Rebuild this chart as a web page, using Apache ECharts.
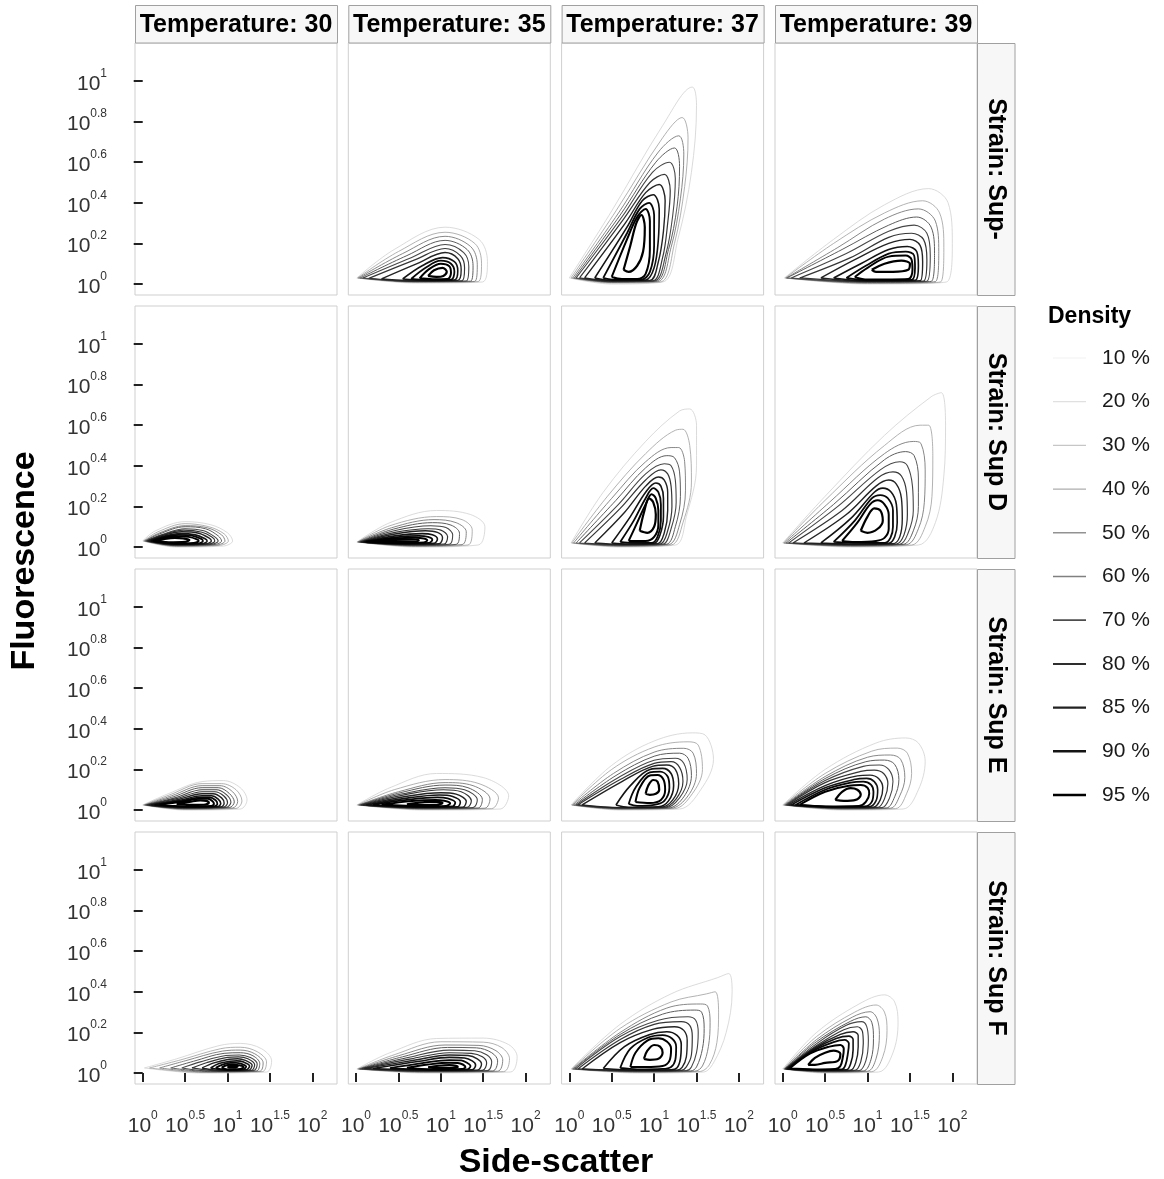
<!DOCTYPE html>
<html>
<head>
<meta charset="utf-8">
<title>Fluorescence vs side-scatter</title>
<script src="https://cdn.jsdelivr.net/npm/echarts@6/dist/echarts.min.js"></script>
<style>
html,body{margin:0;padding:0;background:#fff}
#chart{width:1164px;height:1179px}
</style>
</head>
<body>
<div id="chart"></div>
<script>
var temperatures = ['30', '35', '37', '39'];
var strains = ['Sup-', 'Sup D', 'Sup E', 'Sup F'];
var densityLevels = ['10 %', '20 %', '30 %', '40 %', '50 %', '60 %', '70 %', '80 %', '85 %', '90 %', '95 %'];
var xTicks = [0, 0.5, 1, 1.5, 2];
var yTicks = [0, 0.2, 0.4, 0.6, 0.8, 1];

// density contours, log10 units [side-scatter, fluorescence], one ring per level 10% .. 95%
var supMinus35 = [
  [[0.01,0.03],[0.45,0.17],[1.05,0.28],[1.45,0.22],[1.55,0.11],[1.49,0.01],[0.7,0.005]],
  [[0.02,0.03],[0.5,0.16],[1.05,0.255],[1.4,0.2],[1.48,0.1],[1.44,0.012],[0.7,0.008]],
  [[0.03,0.03],[0.55,0.15],[1.05,0.235],[1.35,0.185],[1.43,0.095],[1.4,0.013],[0.7,0.01]],
  [[0.05,0.03],[0.6,0.14],[1.05,0.215],[1.31,0.17],[1.38,0.09],[1.35,0.014],[0.7,0.012]],
  [[0.08,0.03],[0.65,0.13],[1.05,0.195],[1.27,0.155],[1.33,0.085],[1.3,0.015],[0.7,0.013]],
  [[0.15,0.028],[0.7,0.12],[1.05,0.175],[1.23,0.14],[1.28,0.08],[1.25,0.016],[0.7,0.014]],
  [[0.3,0.025],[0.72,0.1],[1.05,0.155],[1.2,0.125],[1.24,0.07],[1.2,0.018],[0.7,0.016]],
  [[0.55,0.025],[0.78,0.09],[1.02,0.13],[1.16,0.11],[1.2,0.065],[1.16,0.02],[0.8,0.018]],
  [[0.65,0.025],[0.82,0.08],[1.0,0.115],[1.12,0.1],[1.16,0.06],[1.12,0.022],[0.85,0.02]],
  [[0.75,0.028],[0.85,0.07],[1.0,0.1],[1.1,0.088],[1.12,0.055],[1.08,0.025],[0.9,0.024]],
  [[0.85,0.04],[0.92,0.068],[1.02,0.08],[1.07,0.06],[1.03,0.04],[0.95,0.035]]
];
var supMinus37 = [
  [[0.0,0.03],[0.5,0.36],[1.1,0.78],[1.45,0.97],[1.5,0.88],[1.44,0.55],[1.28,0.22],[1.1,0.01],[0.5,0.0]],
  [[0.02,0.03],[0.55,0.36],[1.1,0.72],[1.33,0.82],[1.4,0.72],[1.36,0.48],[1.24,0.2],[1.07,0.01],[0.5,0.005]],
  [[0.04,0.03],[0.58,0.35],[1.05,0.65],[1.29,0.73],[1.35,0.64],[1.31,0.42],[1.2,0.18],[1.04,0.012],[0.5,0.008]],
  [[0.06,0.03],[0.6,0.34],[1.02,0.6],[1.24,0.67],[1.3,0.58],[1.27,0.38],[1.17,0.17],[1.02,0.014],[0.5,0.01]],
  [[0.08,0.03],[0.62,0.33],[0.98,0.55],[1.18,0.6],[1.25,0.52],[1.22,0.34],[1.14,0.15],[1.0,0.015],[0.5,0.012]],
  [[0.12,0.03],[0.64,0.32],[0.95,0.5],[1.12,0.54],[1.19,0.46],[1.16,0.3],[1.1,0.13],[0.98,0.016],[0.5,0.014]],
  [[0.18,0.03],[0.66,0.3],[0.9,0.45],[1.06,0.49],[1.13,0.41],[1.11,0.26],[1.05,0.11],[0.95,0.018],[0.5,0.016]],
  [[0.3,0.03],[0.68,0.28],[0.86,0.41],[0.99,0.44],[1.06,0.37],[1.05,0.22],[1.0,0.08],[0.9,0.02],[0.5,0.018]],
  [[0.4,0.03],[0.68,0.25],[0.83,0.37],[0.94,0.4],[1.0,0.34],[1.0,0.19],[0.95,0.06],[0.85,0.022],[0.55,0.02]],
  [[0.5,0.035],[0.68,0.22],[0.8,0.33],[0.9,0.37],[0.95,0.31],[0.95,0.17],[0.9,0.05],[0.8,0.025],[0.62,0.025]],
  [[0.64,0.07],[0.72,0.19],[0.79,0.3],[0.85,0.34],[0.89,0.28],[0.87,0.16],[0.8,0.09],[0.7,0.06]]
];
var supMinus39 = [
  [[0.02,0.03],[0.6,0.22],[1.2,0.39],[1.72,0.47],[1.95,0.4],[2.0,0.2],[1.93,0.01],[1.0,0.0]],
  [[0.03,0.03],[0.6,0.2],[1.2,0.35],[1.65,0.41],[1.85,0.35],[1.9,0.18],[1.86,0.01],[1.0,0.003]],
  [[0.04,0.03],[0.65,0.18],[1.2,0.32],[1.6,0.37],[1.8,0.31],[1.84,0.16],[1.8,0.012],[1.0,0.005]],
  [[0.05,0.03],[0.7,0.17],[1.25,0.29],[1.58,0.33],[1.75,0.28],[1.79,0.15],[1.75,0.013],[1.0,0.008]],
  [[0.1,0.03],[0.75,0.15],[1.25,0.26],[1.55,0.29],[1.7,0.25],[1.74,0.14],[1.7,0.014],[1.0,0.01]],
  [[0.2,0.03],[0.8,0.13],[1.25,0.23],[1.52,0.25],[1.66,0.22],[1.7,0.12],[1.66,0.015],[1.0,0.012]],
  [[0.45,0.03],[0.85,0.12],[1.25,0.2],[1.5,0.22],[1.62,0.19],[1.65,0.11],[1.62,0.016],[1.0,0.014]],
  [[0.6,0.03],[0.92,0.1],[1.25,0.17],[1.47,0.185],[1.58,0.16],[1.6,0.09],[1.56,0.018],[1.0,0.016]],
  [[0.75,0.03],[0.98,0.09],[1.25,0.15],[1.45,0.16],[1.55,0.14],[1.56,0.08],[1.52,0.02],[1.0,0.018]],
  [[0.85,0.035],[1.0,0.08],[1.25,0.135],[1.45,0.14],[1.52,0.12],[1.53,0.07],[1.48,0.025],[1.0,0.022]],
  [[1.05,0.07],[1.2,0.1],[1.4,0.115],[1.5,0.1],[1.48,0.07],[1.3,0.06],[1.1,0.06]]
];
var supD30 = [
  [[0.0,0.03],[0.15,0.08],[0.5,0.125],[0.8,0.11],[1.0,0.07],[1.06,0.03],[0.95,0.005],[0.4,0.0]],
  [[0.01,0.03],[0.18,0.075],[0.5,0.115],[0.78,0.1],[0.96,0.065],[1.01,0.03],[0.9,0.008],[0.4,0.003]],
  [[0.02,0.03],[0.2,0.07],[0.5,0.105],[0.76,0.095],[0.93,0.06],[0.97,0.03],[0.87,0.01],[0.4,0.005]],
  [[0.03,0.03],[0.2,0.065],[0.5,0.1],[0.74,0.09],[0.89,0.055],[0.93,0.03],[0.84,0.012],[0.4,0.007]],
  [[0.04,0.03],[0.22,0.06],[0.5,0.09],[0.72,0.08],[0.85,0.05],[0.89,0.03],[0.8,0.013],[0.4,0.009]],
  [[0.05,0.03],[0.22,0.058],[0.48,0.083],[0.7,0.073],[0.82,0.048],[0.85,0.03],[0.77,0.014],[0.4,0.011]],
  [[0.06,0.03],[0.22,0.055],[0.46,0.075],[0.66,0.068],[0.78,0.045],[0.81,0.03],[0.74,0.015],[0.4,0.012]],
  [[0.08,0.03],[0.22,0.05],[0.44,0.066],[0.62,0.06],[0.73,0.042],[0.76,0.03],[0.7,0.016],[0.4,0.014]],
  [[0.1,0.03],[0.22,0.046],[0.42,0.06],[0.58,0.056],[0.69,0.04],[0.71,0.03],[0.66,0.018],[0.4,0.016]],
  [[0.12,0.03],[0.24,0.043],[0.4,0.053],[0.54,0.05],[0.64,0.038],[0.66,0.03],[0.6,0.02],[0.4,0.018]],
  [[0.15,0.03],[0.26,0.04],[0.38,0.045],[0.48,0.042],[0.55,0.035],[0.5,0.025],[0.3,0.023]]
];
var supD35 = [
  [[0.01,0.025],[0.4,0.12],[0.95,0.18],[1.35,0.16],[1.52,0.1],[1.44,0.01],[0.7,0.0]],
  [[0.02,0.025],[0.4,0.105],[0.95,0.15],[1.25,0.135],[1.37,0.085],[1.32,0.01],[0.7,0.003]],
  [[0.02,0.025],[0.42,0.095],[0.92,0.135],[1.18,0.12],[1.3,0.075],[1.25,0.012],[0.7,0.005]],
  [[0.03,0.025],[0.44,0.088],[0.9,0.12],[1.12,0.108],[1.22,0.068],[1.18,0.013],[0.7,0.007]],
  [[0.04,0.025],[0.45,0.08],[0.88,0.105],[1.06,0.096],[1.14,0.06],[1.1,0.014],[0.7,0.009]],
  [[0.05,0.025],[0.46,0.072],[0.85,0.09],[1.0,0.083],[1.08,0.052],[1.04,0.015],[0.7,0.011]],
  [[0.06,0.025],[0.46,0.064],[0.82,0.08],[0.96,0.072],[1.02,0.046],[0.98,0.016],[0.7,0.013]],
  [[0.08,0.025],[0.46,0.055],[0.78,0.066],[0.9,0.06],[0.96,0.04],[0.92,0.018],[0.6,0.015]],
  [[0.1,0.025],[0.46,0.048],[0.74,0.055],[0.85,0.05],[0.9,0.036],[0.86,0.02],[0.6,0.017]],
  [[0.12,0.026],[0.45,0.042],[0.7,0.046],[0.8,0.042],[0.84,0.033],[0.8,0.022],[0.5,0.02]],
  [[0.2,0.028],[0.45,0.036],[0.65,0.038],[0.74,0.034],[0.7,0.026],[0.45,0.025]]
];
var supD37 = [
  [[0.02,0.02],[0.4,0.27],[0.9,0.52],[1.3,0.67],[1.42,0.68],[1.5,0.6],[1.5,0.4],[1.38,0.15],[1.25,0.01],[0.6,0.0]],
  [[0.03,0.02],[0.45,0.25],[0.9,0.46],[1.25,0.575],[1.34,0.58],[1.42,0.5],[1.44,0.32],[1.34,0.12],[1.2,0.01],[0.6,0.003]],
  [[0.05,0.02],[0.5,0.24],[0.9,0.42],[1.2,0.49],[1.29,0.49],[1.36,0.42],[1.37,0.28],[1.3,0.11],[1.17,0.012],[0.6,0.005]],
  [[0.08,0.02],[0.55,0.23],[0.9,0.39],[1.15,0.45],[1.24,0.44],[1.3,0.37],[1.31,0.25],[1.25,0.1],[1.14,0.013],[0.6,0.007]],
  [[0.12,0.02],[0.58,0.21],[0.9,0.36],[1.12,0.41],[1.2,0.4],[1.25,0.33],[1.26,0.22],[1.2,0.09],[1.1,0.014],[0.6,0.009]],
  [[0.18,0.02],[0.6,0.19],[0.9,0.33],[1.08,0.38],[1.16,0.36],[1.2,0.3],[1.21,0.2],[1.16,0.08],[1.07,0.015],[0.6,0.011]],
  [[0.3,0.02],[0.65,0.17],[0.9,0.3],[1.05,0.345],[1.12,0.33],[1.16,0.27],[1.16,0.18],[1.12,0.07],[1.04,0.016],[0.6,0.013]],
  [[0.5,0.02],[0.72,0.15],[0.9,0.27],[1.02,0.315],[1.08,0.3],[1.11,0.24],[1.11,0.15],[1.07,0.06],[1.0,0.018],[0.7,0.015]],
  [[0.6,0.025],[0.76,0.13],[0.9,0.24],[0.99,0.29],[1.05,0.27],[1.08,0.21],[1.08,0.13],[1.04,0.05],[0.97,0.02],[0.75,0.02]],
  [[0.7,0.03],[0.8,0.12],[0.9,0.21],[0.97,0.26],[1.02,0.24],[1.05,0.18],[1.05,0.11],[1.0,0.05],[0.9,0.03]],
  [[0.83,0.08],[0.88,0.17],[0.94,0.24],[0.99,0.22],[1.02,0.16],[1.0,0.1],[0.92,0.07]]
];
var supD39 = [
  [[0.0,0.02],[0.5,0.25],[1.2,0.55],[1.75,0.74],[1.87,0.76],[1.92,0.6],[1.9,0.35],[1.8,0.12],[1.6,0.01],[0.8,0.0]],
  [[0.01,0.02],[0.5,0.23],[1.2,0.5],[1.62,0.6],[1.72,0.6],[1.77,0.45],[1.76,0.25],[1.68,0.1],[1.52,0.01],[0.8,0.003]],
  [[0.02,0.02],[0.55,0.22],[1.2,0.46],[1.54,0.52],[1.63,0.51],[1.68,0.38],[1.67,0.22],[1.6,0.09],[1.46,0.012],[0.8,0.005]],
  [[0.04,0.02],[0.6,0.21],[1.2,0.43],[1.45,0.47],[1.55,0.45],[1.6,0.34],[1.6,0.2],[1.54,0.08],[1.42,0.013],[0.8,0.007]],
  [[0.07,0.02],[0.65,0.2],[1.15,0.38],[1.38,0.42],[1.47,0.4],[1.53,0.3],[1.54,0.18],[1.48,0.07],[1.38,0.014],[0.8,0.009]],
  [[0.12,0.02],[0.7,0.18],[1.12,0.34],[1.3,0.37],[1.4,0.35],[1.46,0.27],[1.47,0.16],[1.43,0.06],[1.34,0.015],[0.8,0.011]],
  [[0.25,0.02],[0.75,0.16],[1.1,0.3],[1.25,0.33],[1.34,0.31],[1.4,0.24],[1.41,0.14],[1.38,0.05],[1.3,0.016],[0.8,0.013]],
  [[0.45,0.02],[0.8,0.14],[1.08,0.27],[1.18,0.29],[1.28,0.27],[1.34,0.21],[1.35,0.12],[1.32,0.05],[1.25,0.018],[0.85,0.015]],
  [[0.6,0.025],[0.85,0.13],[1.05,0.24],[1.15,0.256],[1.24,0.24],[1.3,0.18],[1.3,0.1],[1.27,0.045],[1.2,0.02],[0.9,0.02]],
  [[0.7,0.03],[0.88,0.12],[1.03,0.21],[1.12,0.23],[1.2,0.21],[1.25,0.16],[1.25,0.09],[1.2,0.045],[1.1,0.03],[0.85,0.025]],
  [[0.92,0.08],[1.0,0.15],[1.08,0.19],[1.15,0.18],[1.18,0.13],[1.12,0.09],[1.0,0.07]]
];
var supE30 = [
  [[0.0,0.025],[0.3,0.08],[0.7,0.14],[0.95,0.145],[1.15,0.11],[1.23,0.05],[1.15,0.005],[0.5,0.0]],
  [[0.01,0.025],[0.32,0.075],[0.7,0.13],[0.93,0.13],[1.1,0.1],[1.17,0.045],[1.1,0.008],[0.5,0.003]],
  [[0.02,0.025],[0.34,0.07],[0.7,0.12],[0.91,0.12],[1.06,0.09],[1.12,0.042],[1.06,0.01],[0.5,0.005]],
  [[0.03,0.025],[0.36,0.065],[0.7,0.11],[0.89,0.11],[1.02,0.082],[1.08,0.04],[1.02,0.012],[0.5,0.007]],
  [[0.04,0.025],[0.38,0.06],[0.7,0.1],[0.87,0.1],[0.99,0.075],[1.04,0.038],[0.98,0.013],[0.5,0.009]],
  [[0.05,0.025],[0.4,0.056],[0.7,0.09],[0.85,0.09],[0.96,0.068],[1.0,0.036],[0.95,0.014],[0.5,0.011]],
  [[0.07,0.025],[0.42,0.052],[0.7,0.08],[0.83,0.08],[0.93,0.06],[0.96,0.034],[0.92,0.015],[0.5,0.012]],
  [[0.1,0.025],[0.44,0.048],[0.7,0.07],[0.81,0.07],[0.89,0.054],[0.92,0.032],[0.88,0.016],[0.5,0.014]],
  [[0.14,0.025],[0.46,0.045],[0.7,0.062],[0.79,0.062],[0.86,0.048],[0.88,0.03],[0.84,0.018],[0.5,0.016]],
  [[0.2,0.026],[0.48,0.042],[0.68,0.055],[0.77,0.055],[0.82,0.044],[0.84,0.03],[0.8,0.02],[0.5,0.018]],
  [[0.4,0.03],[0.55,0.04],[0.68,0.048],[0.75,0.045],[0.78,0.035],[0.72,0.026],[0.55,0.025]]
];
var supE35 = [
  [[0.01,0.025],[0.4,0.11],[0.95,0.18],[1.5,0.16],[1.8,0.07],[1.7,0.005],[0.8,0.0]],
  [[0.02,0.025],[0.45,0.1],[1.05,0.15],[1.45,0.13],[1.68,0.06],[1.6,0.007],[0.8,0.003]],
  [[0.03,0.025],[0.5,0.09],[1.05,0.135],[1.38,0.12],[1.58,0.055],[1.52,0.009],[0.8,0.005]],
  [[0.04,0.025],[0.52,0.085],[1.05,0.123],[1.32,0.11],[1.49,0.052],[1.44,0.01],[0.8,0.007]],
  [[0.05,0.025],[0.55,0.08],[1.05,0.11],[1.28,0.1],[1.43,0.05],[1.38,0.012],[0.8,0.009]],
  [[0.06,0.025],[0.57,0.075],[1.03,0.1],[1.24,0.09],[1.36,0.046],[1.31,0.013],[0.8,0.011]],
  [[0.08,0.025],[0.6,0.068],[1.0,0.085],[1.18,0.078],[1.3,0.043],[1.26,0.014],[0.8,0.012]],
  [[0.12,0.025],[0.62,0.06],[0.98,0.074],[1.14,0.067],[1.23,0.04],[1.2,0.016],[0.8,0.014]],
  [[0.2,0.026],[0.64,0.052],[0.96,0.062],[1.08,0.057],[1.17,0.037],[1.14,0.018],[0.8,0.016]],
  [[0.3,0.027],[0.66,0.045],[0.94,0.05],[1.04,0.046],[1.11,0.034],[1.06,0.02],[0.8,0.018]],
  [[0.6,0.028],[0.78,0.038],[0.95,0.04],[1.02,0.035],[0.95,0.025],[0.75,0.024]]
];
var supE37 = [
  [[0.02,0.025],[0.5,0.22],[1.0,0.34],[1.45,0.38],[1.6,0.37],[1.7,0.25],[1.55,0.1],[1.3,0.005],[0.6,0.0]],
  [[0.03,0.025],[0.5,0.2],[1.0,0.31],[1.4,0.336],[1.52,0.32],[1.57,0.2],[1.45,0.08],[1.24,0.007],[0.6,0.003]],
  [[0.04,0.025],[0.52,0.18],[1.0,0.285],[1.35,0.304],[1.46,0.28],[1.5,0.18],[1.4,0.07],[1.2,0.009],[0.6,0.005]],
  [[0.06,0.025],[0.55,0.17],[1.0,0.265],[1.3,0.28],[1.4,0.255],[1.44,0.17],[1.35,0.065],[1.17,0.01],[0.6,0.007]],
  [[0.08,0.025],[0.58,0.16],[1.0,0.245],[1.25,0.255],[1.35,0.23],[1.39,0.15],[1.3,0.06],[1.14,0.012],[0.6,0.009]],
  [[0.1,0.025],[0.6,0.15],[1.0,0.23],[1.2,0.238],[1.3,0.21],[1.34,0.14],[1.26,0.055],[1.11,0.013],[0.6,0.011]],
  [[0.15,0.025],[0.62,0.14],[0.98,0.215],[1.15,0.222],[1.25,0.2],[1.29,0.13],[1.22,0.05],[1.08,0.014],[0.6,0.012]],
  [[0.55,0.025],[0.72,0.12],[0.95,0.2],[1.1,0.205],[1.2,0.18],[1.23,0.12],[1.17,0.045],[1.05,0.016],[0.7,0.014]],
  [[0.7,0.03],[0.78,0.11],[0.95,0.185],[1.07,0.189],[1.16,0.165],[1.18,0.11],[1.12,0.045],[1.0,0.025],[0.8,0.02]],
  [[0.78,0.04],[0.83,0.11],[0.95,0.17],[1.04,0.172],[1.11,0.15],[1.13,0.1],[1.08,0.05],[0.95,0.035]],
  [[0.9,0.08],[0.93,0.12],[0.99,0.148],[1.04,0.14],[1.06,0.1],[1.02,0.08],[0.95,0.075]]
];
var supE39 = [
  [[0.0,0.025],[0.5,0.2],[1.1,0.33],[1.45,0.355],[1.6,0.33],[1.68,0.24],[1.6,0.1],[1.42,0.005],[0.7,0.0]],
  [[0.01,0.025],[0.5,0.18],[1.05,0.29],[1.35,0.305],[1.47,0.28],[1.52,0.18],[1.46,0.08],[1.33,0.007],[0.7,0.003]],
  [[0.02,0.025],[0.5,0.165],[1.0,0.26],[1.27,0.271],[1.39,0.25],[1.44,0.16],[1.38,0.07],[1.27,0.009],[0.7,0.005]],
  [[0.03,0.025],[0.5,0.155],[0.98,0.238],[1.2,0.246],[1.32,0.225],[1.37,0.15],[1.32,0.065],[1.22,0.01],[0.7,0.007]],
  [[0.04,0.025],[0.5,0.145],[0.95,0.215],[1.14,0.222],[1.25,0.2],[1.3,0.14],[1.26,0.06],[1.17,0.012],[0.7,0.009]],
  [[0.05,0.025],[0.5,0.135],[0.92,0.19],[1.08,0.197],[1.19,0.18],[1.24,0.13],[1.2,0.055],[1.12,0.013],[0.7,0.011]],
  [[0.07,0.025],[0.5,0.12],[0.88,0.168],[1.03,0.172],[1.13,0.155],[1.18,0.11],[1.15,0.05],[1.07,0.014],[0.7,0.012]],
  [[0.1,0.025],[0.5,0.11],[0.84,0.15],[0.99,0.156],[1.08,0.14],[1.12,0.1],[1.1,0.045],[1.02,0.016],[0.7,0.014]],
  [[0.15,0.025],[0.5,0.1],[0.8,0.135],[0.95,0.14],[1.04,0.125],[1.07,0.09],[1.05,0.04],[0.97,0.018],[0.6,0.016]],
  [[0.2,0.026],[0.5,0.09],[0.78,0.12],[0.92,0.123],[1.0,0.11],[1.02,0.08],[0.98,0.04],[0.9,0.02],[0.5,0.018]],
  [[0.62,0.05],[0.7,0.09],[0.8,0.108],[0.88,0.1],[0.92,0.075],[0.86,0.05],[0.72,0.045]]
];
var supF30 = [
  [[0.02,0.025],[0.4,0.07],[0.9,0.135],[1.15,0.146],[1.4,0.12],[1.52,0.06],[1.46,0.005],[0.7,0.0]],
  [[0.08,0.025],[0.45,0.065],[0.92,0.12],[1.15,0.127],[1.35,0.105],[1.46,0.055],[1.41,0.007],[0.7,0.003]],
  [[0.2,0.025],[0.5,0.06],[0.94,0.108],[1.15,0.113],[1.32,0.095],[1.42,0.05],[1.38,0.009],[0.75,0.005]],
  [[0.33,0.025],[0.6,0.058],[0.96,0.097],[1.15,0.1],[1.3,0.085],[1.38,0.047],[1.34,0.01],[0.8,0.007]],
  [[0.46,0.025],[0.68,0.055],[0.98,0.086],[1.14,0.089],[1.27,0.076],[1.35,0.044],[1.31,0.012],[0.85,0.009]],
  [[0.58,0.025],[0.76,0.052],[1.0,0.077],[1.13,0.08],[1.24,0.07],[1.32,0.041],[1.28,0.013],[0.9,0.011]],
  [[0.7,0.025],[0.84,0.05],[1.02,0.068],[1.12,0.07],[1.21,0.062],[1.29,0.038],[1.25,0.014],[0.95,0.012]],
  [[0.8,0.025],[0.9,0.047],[1.03,0.058],[1.11,0.06],[1.19,0.054],[1.26,0.035],[1.22,0.016],[1.0,0.014]],
  [[0.86,0.026],[0.95,0.043],[1.04,0.05],[1.1,0.05],[1.16,0.046],[1.22,0.032],[1.18,0.018],[1.0,0.016]],
  [[0.93,0.027],[0.99,0.038],[1.05,0.042],[1.1,0.04],[1.14,0.038],[1.19,0.03],[1.15,0.02],[1.0,0.018]],
  [[1.0,0.03],[1.04,0.036],[1.09,0.038],[1.12,0.033],[1.08,0.027],[1.02,0.027]]
];
var supF35 = [
  [[0.01,0.02],[0.4,0.1],[0.95,0.17],[1.5,0.172],[1.8,0.14],[1.9,0.08],[1.82,0.005],[0.8,0.0]],
  [[0.02,0.02],[0.45,0.09],[1.0,0.154],[1.5,0.152],[1.72,0.125],[1.81,0.07],[1.74,0.007],[0.8,0.003]],
  [[0.03,0.02],[0.5,0.085],[1.05,0.138],[1.45,0.136],[1.65,0.11],[1.73,0.065],[1.67,0.009],[0.8,0.005]],
  [[0.04,0.02],[0.55,0.08],[1.08,0.126],[1.42,0.124],[1.6,0.1],[1.67,0.06],[1.61,0.01],[0.8,0.007]],
  [[0.05,0.02],[0.6,0.075],[1.1,0.113],[1.4,0.11],[1.54,0.09],[1.6,0.055],[1.55,0.012],[0.8,0.009]],
  [[0.07,0.022],[0.65,0.07],[1.1,0.1],[1.36,0.097],[1.49,0.08],[1.54,0.05],[1.49,0.013],[0.8,0.011]],
  [[0.1,0.022],[0.7,0.064],[1.1,0.089],[1.32,0.086],[1.43,0.07],[1.48,0.045],[1.43,0.014],[0.8,0.012]],
  [[0.2,0.022],[0.75,0.058],[1.1,0.077],[1.28,0.074],[1.37,0.06],[1.41,0.04],[1.37,0.016],[0.85,0.014]],
  [[0.4,0.024],[0.8,0.05],[1.1,0.064],[1.24,0.062],[1.31,0.05],[1.35,0.035],[1.31,0.018],[0.9,0.016]],
  [[0.6,0.026],[0.85,0.042],[1.1,0.051],[1.2,0.05],[1.26,0.042],[1.29,0.03],[1.25,0.02],[0.9,0.018]],
  [[0.85,0.028],[0.98,0.036],[1.1,0.039],[1.18,0.036],[1.2,0.03],[1.1,0.024],[0.95,0.024]]
];
var supF37 = [
  [[0.02,0.02],[0.6,0.24],[1.2,0.39],[1.75,0.47],[1.88,0.49],[1.92,0.4],[1.85,0.2],[1.7,0.05],[1.58,0.005],[0.8,0.0]],
  [[0.03,0.02],[0.6,0.22],[1.2,0.35],[1.62,0.39],[1.72,0.4],[1.76,0.3],[1.74,0.15],[1.65,0.04],[1.53,0.007],[0.8,0.003]],
  [[0.04,0.02],[0.6,0.2],[1.15,0.32],[1.55,0.34],[1.63,0.33],[1.66,0.25],[1.64,0.13],[1.57,0.035],[1.48,0.009],[0.8,0.005]],
  [[0.05,0.02],[0.6,0.19],[1.1,0.29],[1.48,0.31],[1.56,0.3],[1.59,0.22],[1.57,0.12],[1.5,0.03],[1.43,0.01],[0.8,0.007]],
  [[0.07,0.02],[0.6,0.18],[1.05,0.26],[1.4,0.277],[1.49,0.26],[1.52,0.2],[1.5,0.1],[1.44,0.03],[1.38,0.012],[0.8,0.009]],
  [[0.1,0.02],[0.6,0.165],[1.0,0.24],[1.32,0.253],[1.42,0.235],[1.45,0.18],[1.44,0.09],[1.38,0.03],[1.32,0.013],[0.8,0.011]],
  [[0.15,0.02],[0.6,0.15],[0.98,0.215],[1.24,0.228],[1.35,0.21],[1.39,0.16],[1.38,0.08],[1.33,0.028],[1.27,0.014],[0.8,0.012]],
  [[0.4,0.022],[0.65,0.13],[0.95,0.19],[1.15,0.203],[1.27,0.185],[1.32,0.14],[1.31,0.07],[1.27,0.026],[1.2,0.016],[0.8,0.014]],
  [[0.6,0.025],[0.72,0.12],[0.93,0.175],[1.1,0.187],[1.21,0.17],[1.26,0.13],[1.25,0.065],[1.2,0.03],[1.1,0.02],[0.8,0.018]],
  [[0.72,0.03],[0.78,0.1],[0.92,0.16],[1.05,0.171],[1.15,0.155],[1.2,0.12],[1.18,0.06],[1.1,0.035],[0.9,0.03]],
  [[0.88,0.07],[0.92,0.11],[1.0,0.138],[1.07,0.13],[1.1,0.1],[1.05,0.07],[0.95,0.065]]
];
var supF39 = [
  [[0.0,0.02],[0.4,0.2],[0.9,0.34],[1.2,0.385],[1.32,0.35],[1.36,0.25],[1.3,0.1],[1.13,0.005],[0.5,0.0]],
  [[0.01,0.02],[0.4,0.18],[0.85,0.3],[1.1,0.335],[1.2,0.3],[1.23,0.21],[1.18,0.08],[1.05,0.007],[0.5,0.003]],
  [[0.02,0.02],[0.4,0.165],[0.82,0.275],[1.03,0.302],[1.11,0.27],[1.14,0.19],[1.1,0.07],[1.0,0.009],[0.5,0.005]],
  [[0.02,0.02],[0.4,0.155],[0.8,0.255],[0.98,0.277],[1.05,0.25],[1.07,0.17],[1.04,0.065],[0.95,0.01],[0.5,0.007]],
  [[0.03,0.02],[0.4,0.145],[0.75,0.235],[0.93,0.253],[0.99,0.23],[1.01,0.16],[0.98,0.06],[0.9,0.012],[0.5,0.009]],
  [[0.03,0.02],[0.4,0.135],[0.72,0.213],[0.88,0.228],[0.94,0.205],[0.95,0.145],[0.92,0.055],[0.85,0.013],[0.5,0.011]],
  [[0.04,0.02],[0.38,0.125],[0.68,0.19],[0.83,0.203],[0.89,0.185],[0.89,0.13],[0.86,0.05],[0.8,0.014],[0.5,0.012]],
  [[0.05,0.02],[0.36,0.115],[0.63,0.17],[0.78,0.182],[0.83,0.165],[0.83,0.115],[0.8,0.045],[0.75,0.016],[0.45,0.014]],
  [[0.06,0.02],[0.34,0.105],[0.6,0.152],[0.73,0.163],[0.78,0.145],[0.77,0.1],[0.74,0.04],[0.7,0.018],[0.4,0.016]],
  [[0.08,0.022],[0.32,0.095],[0.55,0.13],[0.68,0.138],[0.72,0.12],[0.71,0.08],[0.68,0.035],[0.62,0.02],[0.35,0.018]],
  [[0.3,0.04],[0.38,0.075],[0.5,0.1],[0.6,0.11],[0.68,0.095],[0.65,0.06],[0.5,0.05],[0.38,0.04]]
];

// rows = strains, columns = temperatures
var panels = [
  [null,   supMinus35, supMinus37, supMinus39],
  [supD30, supD35,     supD37,     supD39],
  [supE30, supE35,     supE37,     supE39],
  [supF30, supF35,     supF37,     supF39]
];

// line look per density level
var levelColors = ['#cccccc','#9e9e9e','#7a7a7a','#5e5e5e','#474747','#363636','#242424','#141414','#080808','#000000','#000000'];
var levelWidths = [0.7, 0.8, 0.9, 1.0, 1.1, 1.2, 1.4, 1.6, 1.8, 2.0, 2.2];
var legendColors = ['#f2f2f2','#e0e0e0','#c6c6c6','#adadad','#929292','#808080','#4d4d4d','#2e2e2e','#222222','#141414','#000000'];

var font = '"Liberation Sans", Arial, Helvetica, sans-serif';
var colLeft = [135, 348.3, 561.6, 775];
var rowTop = [43, 306, 569, 832];
var panelW = 202, panelH = 252;

function powLabel(v) {
  var e = Math.round(v * 10) / 10;
  return '{b|10}{s|' + e + '}';
}
var labRich = {
  b: {fontSize: 21, color: '#333', fontFamily: font, verticalAlign: 'bottom', lineHeight: 27},
  s: {fontSize: 12, color: '#333', fontFamily: font, verticalAlign: 'top'}
};

var grids = [], xAxes = [], yAxes = [], series = [], graphics = [];

for (var r = 0; r < 4; r++) {
  for (var c = 0; c < 4; c++) {
    var idx = r * 4 + c;
    grids.push({left: colLeft[c], top: rowTop[r], width: panelW, height: panelH,
      show: true, borderColor: '#cfcfcf', borderWidth: 1, backgroundColor: '#fff'});
    xAxes.push({
      type: 'value', gridIndex: idx, min: -0.091, max: 2.291, offset: 2,
      axisLine: {show: false}, splitLine: {show: false},
      axisTick: {show: r == 3, length: 9, customValues: xTicks, lineStyle: {color: '#222', width: 2}},
      axisLabel: {show: r == 3, customValues: xTicks, margin: 24, formatter: powLabel, rich: labRich}
    });
    yAxes.push({
      type: 'value', gridIndex: idx, min: -0.054, max: 1.187, offset: 2,
      axisLine: {show: false}, splitLine: {show: false},
      axisTick: {show: c == 0, length: 9, customValues: yTicks, lineStyle: {color: '#222', width: 2}},
      axisLabel: {show: c == 0, customValues: yTicks, margin: 26, formatter: powLabel, rich: labRich}
    });
    var rings = panels[r][c];
    if (!rings) continue;
    for (var k = 0; k < rings.length; k++) {
      series.push({
        type: 'line', name: densityLevels[k], xAxisIndex: idx, yAxisIndex: idx,
        data: rings[k].concat([rings[k][0]]),
        smooth: 0.35, symbol: 'none', showSymbol: false, silent: true, animation: false,
        lineStyle: {color: levelColors[k], width: levelWidths[k]},
        z: 2 + k
      });
    }
  }
}

// facet strips
for (var c2 = 0; c2 < 4; c2++) {
  graphics.push({type: 'rect', shape: {x: colLeft[c2] + 0.5, y: 5.5, width: panelW, height: 37.5},
    style: {fill: '#f7f7f7', stroke: '#a0a0a0', lineWidth: 1}});
  graphics.push({type: 'text', x: colLeft[c2] + panelW / 2, y: 25,
    style: {text: 'Temperature: ' + temperatures[c2], align: 'center', verticalAlign: 'middle',
      font: 'bold 25px ' + font, fill: '#000'}});
}
for (var r2 = 0; r2 < 4; r2++) {
  graphics.push({type: 'rect', shape: {x: 977.5, y: rowTop[r2] + 0.5, width: 37.5, height: panelH},
    style: {fill: '#f7f7f7', stroke: '#a0a0a0', lineWidth: 1}});
  graphics.push({type: 'text', x: 996, y: rowTop[r2] + panelH / 2, rotation: -Math.PI / 2,
    style: {text: 'Strain: ' + strains[r2], align: 'center', verticalAlign: 'middle',
      font: 'bold 25px ' + font, fill: '#000'}});
}
graphics.push({type: 'text', x: 25, y: 561, rotation: Math.PI / 2,
  style: {text: 'Fluorescence', align: 'center', verticalAlign: 'middle', font: 'bold 34px ' + font, fill: '#000'}});
graphics.push({type: 'text', x: 556, y: 1163,
  style: {text: 'Side-scatter', align: 'center', verticalAlign: 'middle', font: 'bold 34px ' + font, fill: '#000'}});

// density key
graphics.push({type: 'text', x: 1048, y: 317,
  style: {text: 'Density', align: 'left', verticalAlign: 'middle', font: 'bold 23px ' + font, fill: '#000'}});
for (var i = 0; i < densityLevels.length; i++) {
  var ly = 358 + i * 43.7;
  graphics.push({type: 'line', shape: {x1: 1053, y1: ly, x2: 1086, y2: ly},
    style: {stroke: legendColors[i], lineWidth: levelWidths[i] + 0.4}});
  graphics.push({type: 'text', x: 1102, y: ly,
    style: {text: densityLevels[i], align: 'left', verticalAlign: 'middle', font: '21px ' + font, fill: '#1a1a1a'}});
}

var myChart = echarts.init(document.getElementById('chart'), null, {renderer: 'canvas'});
var option = {
  backgroundColor: '#fff',
  animation: false,
  grid: grids,
  xAxis: xAxes,
  yAxis: yAxes,
  graphic: graphics,
  series: series
};
myChart.setOption(option);
</script>
</body>
</html>
